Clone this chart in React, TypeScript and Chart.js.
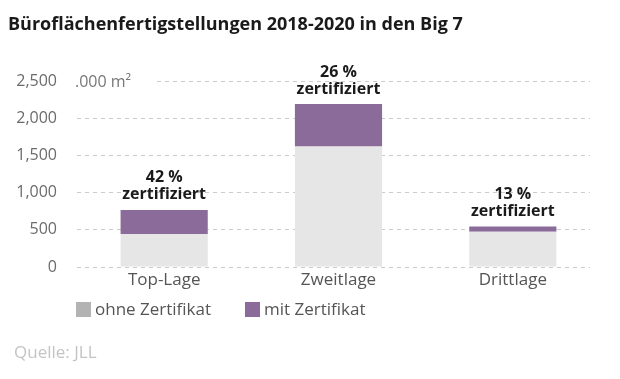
import React, { useEffect, useRef } from "react";
import { Chart, registerables } from "chart.js";

Chart.register(...registerables);

const categories = ["Top-Lage", "Zweitlage", "Drittlage"];
const ohneZertifikat = [445, 1620, 475];
const mitZertifikat = [322, 570, 70];
const seriesLabels = ["ohne Zertifikat", "mit Zertifikat"];
const yTicks = [0, 500, 1000, 1500, 2000, 2500];
const titleText = "Büroflächenfertigstellungen 2018-2020 in den Big 7";
const unitText = ".000 m²";
const sourceText = "Quelle: JLL";

const FONT = "'Open Sans', 'Noto Sans', sans-serif";
const GRAY_BAR = "#e6e6e6";
const GRAY_LEGEND = "#b3b3b3";
const PURPLE = "#8b6b9a";

export default function App() {
  const ref = useRef<HTMLCanvasElement | null>(null);

  useEffect(() => {
    document.body.style.margin = "0";
    const canvas = ref.current!;
    const decor = {
      id: "decor",
      beforeDatasetsDraw(chart: any) {
        const ctx = chart.ctx;
        const ca = chart.chartArea;
        ctx.save();
        ctx.fillStyle = "#ffffff";
        // gridlines end a little before the plot edge
        ctx.fillRect(ca.right - 10, ca.top - 3, 12, ca.bottom - ca.top + 6);
        // unit label with white background
        const yScale = chart.scales.y;
        const yTop = yScale.getPixelForValue(yTicks[yTicks.length - 1]);
        ctx.fillRect(ca.left - 2, yTop - 6, 82, 12);
        ctx.fillStyle = "#777777";
        ctx.font = `16px ${FONT}`;
        ctx.textBaseline = "middle";
        ctx.textAlign = "left";
        ctx.fillText(unitText, 75, yTop + 1);
        ctx.restore();
      },
      afterDraw(chart: any) {
        const ctx = chart.ctx;
        ctx.save();
        // title
        ctx.fillStyle = "#1a1a1a";
        ctx.font = `bold 18px ${FONT}`;
        ctx.textBaseline = "middle";
        ctx.textAlign = "left";
        ctx.fillText(titleText, 8, 25);
        // legend
        const colors = [GRAY_LEGEND, PURPLE];
        const xs = [76, 245];
        ctx.font = `17px ${FONT}`;
        seriesLabels.forEach((lab, i) => {
          ctx.fillStyle = colors[i];
          ctx.fillRect(xs[i], 302, 15, 15);
          ctx.fillStyle = "#555555";
          ctx.fillText(lab, xs[i] + 19, 310);
        });
        // source
        ctx.fillStyle = "#c4c4c4";
        ctx.font = `17px ${FONT}`;
        ctx.fillText(sourceText, 14, 353);
        ctx.restore();
      },
      afterDatasetsDraw(chart: any) {
        const ctx = chart.ctx;
        const meta = chart.getDatasetMeta(1);
        ctx.save();
        ctx.fillStyle = "#1a1a1a";
        ctx.font = `bold 16px ${FONT}`;
        ctx.textAlign = "center";
        ctx.textBaseline = "middle";
        meta.data.forEach((bar: any, i: number) => {
          const total = ohneZertifikat[i] + mitZertifikat[i];
          const pct = Math.round((mitZertifikat[i] / total) * 100);
          ctx.fillText(`${pct} %`, bar.x, bar.y - 32);
          ctx.fillText("zertifiziert", bar.x, bar.y - 15);
        });
        ctx.restore();
      },
    };

    const chart = new Chart(canvas, {
      type: "bar",
      data: {
        labels: categories,
        datasets: [
          {
            label: seriesLabels[0],
            data: ohneZertifikat,
            backgroundColor: GRAY_BAR,
            barPercentage: 0.5,
            categoryPercentage: 1,
          },
          {
            label: seriesLabels[1],
            data: mitZertifikat,
            backgroundColor: PURPLE,
            barPercentage: 0.5,
            categoryPercentage: 1,
          },
        ],
      },
      options: {
        animation: false,
        responsive: false,
        maintainAspectRatio: false,
        layout: { padding: { top: 81, right: 20, left: 0, bottom: 0 } },
        plugins: {
          legend: { display: false },
          tooltip: { enabled: false },
          title: { display: false },
        },
        scales: {
          x: {
            stacked: true,
            grid: { display: false, drawTicks: false },
            border: { display: false },
            ticks: {
              color: "#555555",
              font: { family: FONT, size: 17 },
              padding: 3,
            },
            afterFit(scale: any) {
              scale.height = 112;
            },
          },
          y: {
            stacked: true,
            min: 0,
            max: 2500,
            afterBuildTicks(scale: any) {
              scale.ticks = yTicks.map((v) => ({ value: v }));
            },
            grid: {
              color: "#cccccc",
              drawTicks: false,
              lineWidth: 1,
            },
            border: { display: false, dash: [4, 4] },
            ticks: {
              color: "#6b6b6b",
              font: { family: FONT, size: 16 },
              padding: 20,
              callback: (v: any) => Number(v).toLocaleString("en-US"),
            },
            afterFit(scale: any) {
              scale.width = 77;
            },
          },
        },
      },
      plugins: [decor],
    });
    return () => chart.destroy();
  }, []);

  return (
    <div style={{ position: "absolute", left: 0, top: 0, width: 620, height: 379, background: "#fff" }}>
      <canvas ref={ref} width={620} height={379} style={{ width: 620, height: 379 }} />
    </div>
  );
}
